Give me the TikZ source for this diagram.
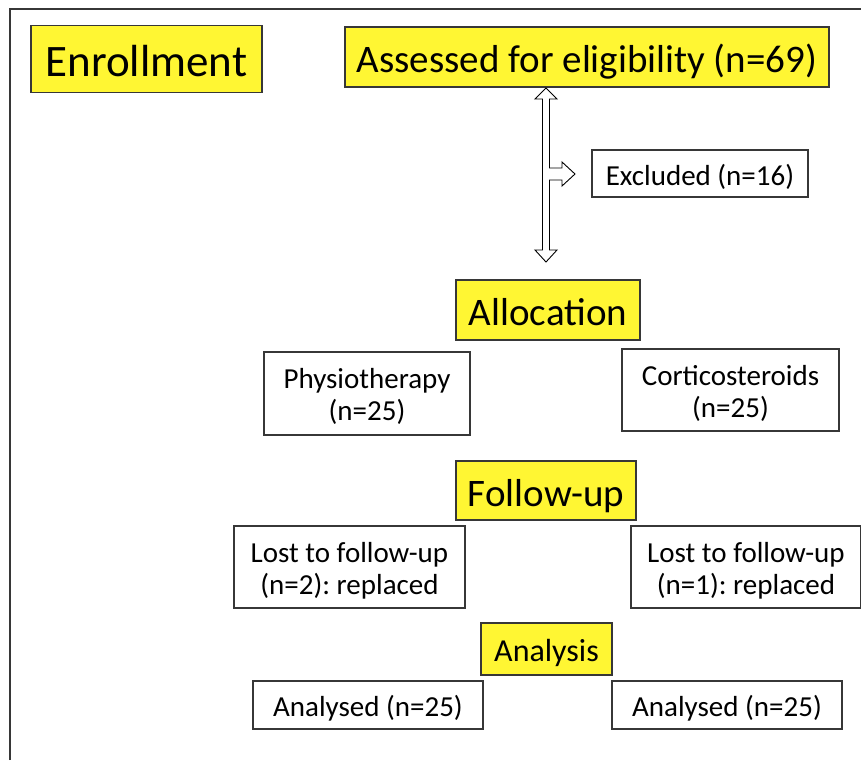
\documentclass[tikz,border=0pt]{standalone}
\usepackage{fontspec}
\setmainfont{Carlito}
\frenchspacing
\definecolor{cyellow}{RGB}{255,246,51}
\definecolor{cedge}{RGB}{55,55,55}
\newcommand\topstrut{\rule{0pt}{1.06em}}
\newcommand\botstrut{\rule[-0.3em]{0pt}{0.3em}}
\tikzset{
  stage/.style={draw=cedge, line width=1.3pt, fill=cyellow, inner sep=0pt, text height=31.2pt, text depth=0pt, font=\fontsize{39}{46}\selectfont},
  infobox/.style={draw=cedge, line width=1.1pt, fill=white, inner sep=0pt, text height=23.2pt, text depth=0pt, font=\fontsize{29}{32}\selectfont},
  infotwo/.style={draw=cedge, line width=1.1pt, fill=white, inner sep=0pt, align=center, font=\fontsize{29}{32}\selectfont\frenchspacing},
  hollow/.style={draw=black, line width=0.9pt, fill=white, line join=miter},
  frame/.style={draw=cedge, line width=1.3pt}
}
\begin{document}
\begin{tikzpicture}[x=1pt,y=-1pt]
\useasboundingbox (0,0) rectangle (861,760);
\draw[frame] (10,760) -- (10,9) -- (861,9);

\node[stage, minimum width=231pt, minimum height=67pt, text height=36pt, font=\fontsize{45}{52}\selectfont] (enroll) at (146.5,59) {Enrollment};
\node[stage, minimum width=484pt, minimum height=60pt] (assess) at (587,57) {Assessed for eligibility (n=69)};
\node[infobox, minimum width=216pt, minimum height=47pt] (excl) at (700,173.5) {Excluded (n=16)};
\node[stage, minimum width=184pt, minimum height=60pt] (alloc) at (548,310) {Allocation};
\node[infotwo, minimum width=206pt, minimum height=83pt] (physio) at (367,393.5) {\topstrut Physiotherapy\\(n=25)\botstrut};
\node[infotwo, minimum width=217pt, minimum height=82pt] (cortico) at (730.5,390) {\topstrut Corticosteroids\\(n=25)\botstrut};
\node[stage, minimum width=180pt, minimum height=59pt] (follow) at (546,490.5) {Follow-up};
\node[infotwo, minimum width=231pt, minimum height=82pt] (lostL) at (349.5,567) {\topstrut Lost to follow-up\\(n=2): replaced\botstrut};
\node[infotwo, minimum width=230pt, minimum height=82pt] (lostR) at (746,567) {\topstrut Lost to follow-up\\(n=1): replaced\botstrut};
\node[stage, minimum width=131pt, minimum height=52pt, text height=25.6pt, font=\fontsize{32}{38}\selectfont] (analysis) at (546.5,649) {Analysis};
\node[infobox, minimum width=230pt, minimum height=48pt] (anL) at (368,705) {Analysed (n=25)};
\node[infobox, minimum width=230pt, minimum height=48pt] (anR) at (727,705) {Analysed (n=25)};

% hollow double arrow with side branch to the excluded box
\coordinate (ctop) at (546,88);
\coordinate (cbot) at (546,262);
\draw[hollow] (ctop) -- ++(11,11) -- ++(-7.5,0) -- ++(0,69) -- ++(12.5,0) -- ++(0,-6)
  -- ++(13,12) -- ++(-13,12) -- ++(0,-6) -- ++(-12.5,0) -- (549.5,250) -- ++(7.5,0)
  -- (cbot) -- ++(-11,-12) -- ++(7.5,0) -- (542.5,99) -- ++(-7.5,0) -- cycle;
\end{tikzpicture}
\end{document}
